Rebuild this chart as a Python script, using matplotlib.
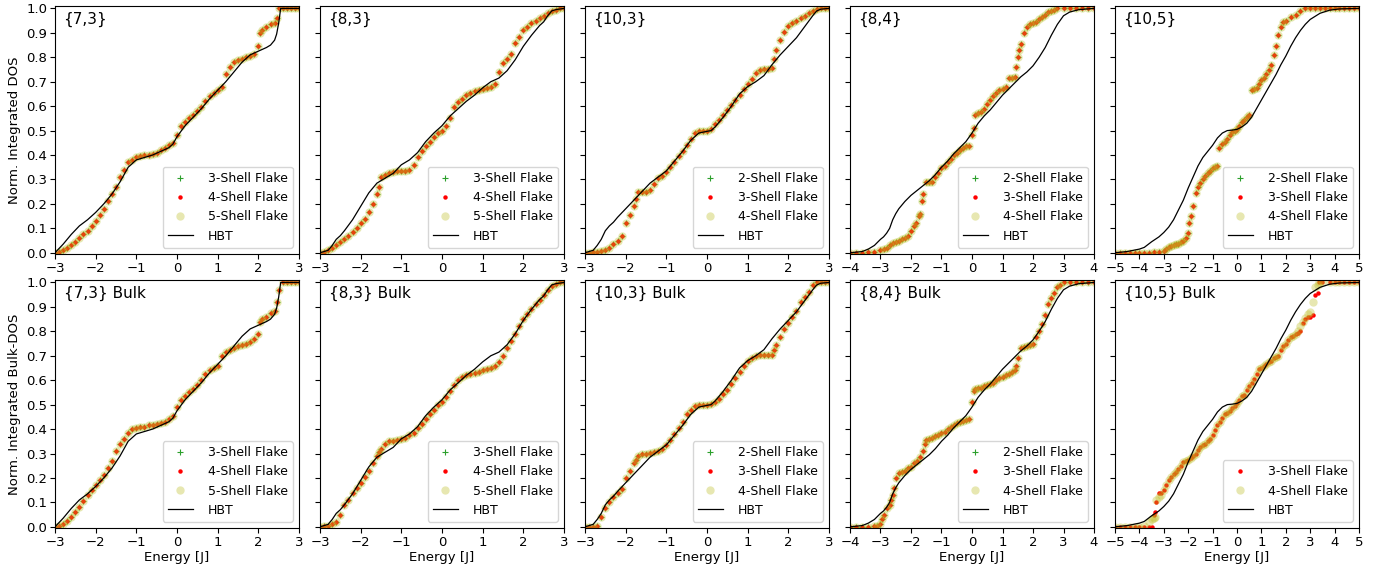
import matplotlib
matplotlib.use('Agg')
import matplotlib.pyplot as plt

# ---- {7,3} ----
e73 = [-3.0, -2.9, -2.8, -2.7, -2.6, -2.5, -2.4, -2.3, -2.2, -2.1, -2.0, -1.9, -1.8, -1.7, -1.6, -1.5,
       -1.4, -1.3, -1.2, -1.1, -1.0, -0.9, -0.8, -0.7, -0.6, -0.5, -0.4, -0.3, -0.2, -0.1, 0.0, 0.1,
       0.2, 0.3, 0.4, 0.5, 0.6, 0.7, 0.8, 0.9, 1.0, 1.1, 1.2, 1.3, 1.4, 1.5, 1.6, 1.7, 1.8, 1.9,
       2.0, 2.05, 2.1, 2.2, 2.3, 2.4, 2.45, 2.5, 2.6, 2.7, 2.8, 2.9, 3.0]
n73 = [0.0, 0.005, 0.01, 0.02, 0.03, 0.045, 0.06, 0.075, 0.09, 0.11, 0.13, 0.155, 0.18, 0.21, 0.24, 0.27,
       0.31, 0.34, 0.37, 0.38, 0.39, 0.395, 0.40, 0.40, 0.405, 0.41, 0.42, 0.43, 0.44, 0.45, 0.48, 0.52,
       0.535, 0.55, 0.565, 0.58, 0.595, 0.62, 0.64, 0.655, 0.665, 0.68, 0.73, 0.76, 0.78, 0.79, 0.795, 0.80, 0.805, 0.815,
       0.845, 0.90, 0.91, 0.925, 0.935, 0.94, 0.96, 1.0, 1.0, 1.0, 1.0, 1.0, 1.0]
n73b = [0.0, 0.003, 0.01, 0.025, 0.04, 0.06, 0.08, 0.105, 0.13, 0.15, 0.17, 0.19, 0.21, 0.24, 0.27, 0.31,
        0.34, 0.36, 0.385, 0.40, 0.405, 0.41, 0.41, 0.415, 0.415, 0.42, 0.425, 0.43, 0.44, 0.455, 0.49, 0.52,
        0.535, 0.55, 0.565, 0.58, 0.60, 0.625, 0.64, 0.65, 0.66, 0.70, 0.715, 0.725, 0.73, 0.74, 0.745, 0.75, 0.755, 0.77,
        0.79, 0.84, 0.85, 0.86, 0.875, 0.885, 0.92, 0.97, 1.0, 1.0, 1.0, 1.0, 1.0]
h73e = [-3.0, -2.8, -2.6, -2.4, -2.2, -2.0, -1.8, -1.6, -1.4, -1.2, -1.0, -0.8, -0.6, -0.4, -0.2, -0.1, 0.0,
        0.2, 0.4, 0.6, 0.8, 1.0, 1.2, 1.4, 1.6, 1.8, 2.0, 2.2, 2.3, 2.4, 2.45, 2.5, 2.55, 2.6, 3.0]
h73n = [0.0, 0.035, 0.075, 0.11, 0.135, 0.165, 0.20, 0.24, 0.29, 0.35, 0.38, 0.39, 0.40, 0.415, 0.43, 0.445, 0.475,
        0.52, 0.555, 0.59, 0.63, 0.665, 0.70, 0.74, 0.78, 0.81, 0.825, 0.84, 0.85, 0.87, 0.895, 0.94, 1.0, 1.0, 1.0]

# ---- {8,3} ----
e83 = [-3.0, -2.9, -2.8, -2.7, -2.6, -2.5, -2.4, -2.3, -2.2, -2.1, -2.0, -1.9, -1.8, -1.7, -1.6, -1.55,
       -1.5, -1.4, -1.3, -1.2, -1.1, -1.0, -0.9, -0.8, -0.7, -0.6, -0.5, -0.4, -0.3, -0.2, -0.1, 0.0,
       0.1, 0.2, 0.3, 0.4, 0.5, 0.6, 0.7, 0.8, 0.9, 1.0, 1.1, 1.2, 1.3, 1.4, 1.5, 1.6, 1.7, 1.8,
       1.9, 2.0, 2.1, 2.2, 2.3, 2.4, 2.5, 2.6, 2.7, 2.8, 2.9, 3.0]
n83 = [0.0, 0.003, 0.01, 0.02, 0.03, 0.042, 0.055, 0.07, 0.085, 0.10, 0.12, 0.14, 0.165, 0.20, 0.24, 0.27,
       0.31, 0.32, 0.325, 0.33, 0.333, 0.335, 0.335, 0.34, 0.36, 0.39, 0.415, 0.435, 0.455, 0.475, 0.49, 0.50,
       0.52, 0.55, 0.595, 0.615, 0.63, 0.645, 0.655, 0.66, 0.665, 0.67, 0.675, 0.68, 0.69, 0.74, 0.775, 0.795, 0.815, 0.86,
       0.885, 0.91, 0.925, 0.94, 0.95, 0.96, 0.97, 0.98, 0.99, 0.995, 1.0, 1.0]
n83b = [0.0, 0.002, 0.005, 0.01, 0.02, 0.05, 0.09, 0.11, 0.14, 0.16, 0.18, 0.205, 0.23, 0.26, 0.29, 0.305,
        0.32, 0.34, 0.35, 0.352, 0.355, 0.36, 0.365, 0.375, 0.385, 0.405, 0.42, 0.44, 0.46, 0.48, 0.50, 0.51,
        0.53, 0.555, 0.58, 0.60, 0.615, 0.62, 0.625, 0.63, 0.635, 0.64, 0.645, 0.65, 0.66, 0.675, 0.70, 0.73, 0.76, 0.79,
        0.82, 0.85, 0.87, 0.89, 0.91, 0.93, 0.95, 0.97, 0.985, 0.995, 1.0, 1.0]
h83e = [-3.0, -2.8, -2.7, -2.6, -2.5, -2.4, -2.2, -2.0, -1.8, -1.6, -1.4, -1.2, -1.0, -0.8, -0.6, -0.4, -0.2,
        0.0, 0.2, 0.4, 0.6, 0.8, 1.0, 1.2, 1.4, 1.6, 1.8, 2.0, 2.2, 2.4, 2.5, 2.6, 2.7, 2.8, 3.0]
h83n = [0.0, 0.01, 0.03, 0.055, 0.07, 0.09, 0.135, 0.19, 0.245, 0.285, 0.305, 0.325, 0.36, 0.38, 0.41, 0.455, 0.49,
        0.52, 0.56, 0.59, 0.62, 0.645, 0.675, 0.70, 0.715, 0.745, 0.79, 0.845, 0.89, 0.93, 0.945, 0.97, 0.99, 0.995, 1.0]

# ---- {10,3} ----
e103 = [-3.0, -2.9, -2.8, -2.7, -2.6, -2.5, -2.4, -2.3, -2.2, -2.1, -2.0, -1.9, -1.8, -1.75, -1.7, -1.6,
        -1.5, -1.4, -1.3, -1.2, -1.1, -1.0, -0.9, -0.8, -0.7, -0.6, -0.5, -0.4, -0.3, -0.2, -0.1, 0.0,
        0.1, 0.2, 0.3, 0.4, 0.5, 0.6, 0.7, 0.8, 0.9, 1.0, 1.1, 1.2, 1.3, 1.4, 1.5, 1.6, 1.65, 1.7,
        1.8, 1.9, 2.0, 2.1, 2.2, 2.3, 2.4, 2.5, 2.6, 2.7, 2.8, 2.9, 3.0]
n103 = [0.0, 0.0, 0.002, 0.005, 0.008, 0.012, 0.02, 0.035, 0.05, 0.07, 0.12, 0.155, 0.19, 0.22, 0.25, 0.25,
        0.25, 0.255, 0.28, 0.305, 0.315, 0.33, 0.35, 0.37, 0.395, 0.415, 0.44, 0.465, 0.49, 0.50, 0.50, 0.50,
        0.505, 0.525, 0.545, 0.565, 0.585, 0.605, 0.625, 0.645, 0.67, 0.69, 0.71, 0.735, 0.75, 0.752, 0.753, 0.755, 0.795, 0.83,
        0.87, 0.905, 0.93, 0.94, 0.95, 0.96, 0.97, 0.98, 0.99, 0.997, 1.0, 1.0, 1.0]
n103b = [0.0, 0.0, 0.0, 0.005, 0.04, 0.075, 0.10, 0.12, 0.14, 0.155, 0.20, 0.23, 0.26, 0.275, 0.29, 0.30,
         0.30, 0.302, 0.305, 0.31, 0.32, 0.335, 0.355, 0.38, 0.405, 0.43, 0.46, 0.48, 0.495, 0.50, 0.50, 0.50,
         0.502, 0.51, 0.525, 0.545, 0.56, 0.585, 0.61, 0.635, 0.66, 0.68, 0.69, 0.70, 0.702, 0.703, 0.703, 0.705, 0.725, 0.745,
         0.775, 0.81, 0.835, 0.86, 0.885, 0.92, 0.94, 0.96, 0.99, 1.0, 1.0, 1.0, 1.0]
h103e = [-3.0, -2.8, -2.7, -2.6, -2.5, -2.4, -2.3, -2.2, -2.0, -1.8, -1.6, -1.4, -1.2, -1.0, -0.8, -0.6, -0.4,
         -0.2, 0.0, 0.1, 0.2, 0.4, 0.6, 0.8, 1.0, 1.2, 1.4, 1.6, 1.8, 2.0, 2.2, 2.4, 2.6, 2.7, 2.8, 3.0]
h103n = [0.0, 0.01, 0.03, 0.055, 0.09, 0.11, 0.125, 0.145, 0.18, 0.215, 0.25, 0.285, 0.31, 0.335, 0.375, 0.415, 0.46,
         0.49, 0.497, 0.50, 0.515, 0.555, 0.60, 0.65, 0.68, 0.70, 0.725, 0.77, 0.81, 0.845, 0.88, 0.925, 0.97, 0.99, 0.997, 1.0]

# ---- {8,4} ----
e84 = [-4.0, -3.8, -3.6, -3.4, -3.2, -3.0, -2.9, -2.8, -2.7, -2.6, -2.5, -2.4, -2.3, -2.2, -2.1, -2.0,
       -1.9, -1.85, -1.75, -1.7, -1.65, -1.6, -1.5, -1.4, -1.3, -1.2, -1.1, -1.0, -0.9, -0.8, -0.7, -0.6,
       -0.5, -0.4, -0.3, -0.2, -0.1, 0.0, 0.05, 0.1, 0.2, 0.3, 0.4, 0.5, 0.6, 0.7, 0.8, 0.9, 1.0, 1.1,
       1.2, 1.3, 1.4, 1.45, 1.5, 1.55, 1.6, 1.7, 1.8, 1.9, 2.0, 2.1, 2.2, 2.3, 2.4, 2.5, 2.6, 2.7,
       2.8, 3.0, 3.2, 3.4, 3.6, 3.8, 4.0]
n84 = [0.0, 0.0, 0.0, 0.002, 0.005, 0.01, 0.015, 0.02, 0.03, 0.04, 0.045, 0.05, 0.055, 0.06, 0.07, 0.09,
       0.11, 0.12, 0.15, 0.16, 0.21, 0.24, 0.29, 0.29, 0.29, 0.31, 0.325, 0.345, 0.355, 0.37, 0.385, 0.40,
       0.41, 0.42, 0.43, 0.435, 0.437, 0.48, 0.51, 0.565, 0.57, 0.575, 0.59, 0.61, 0.625, 0.64, 0.655, 0.665, 0.67, 0.68,
       0.715, 0.715, 0.72, 0.76, 0.80, 0.83, 0.855, 0.90, 0.925, 0.935, 0.94, 0.945, 0.955, 0.965, 0.975, 0.985, 0.99, 0.995,
       1.0, 1.0, 1.0, 1.0, 1.0, 1.0, 1.0]
e84b = [-4.0, -3.8, -3.6, -3.4, -3.2, -3.1, -3.0, -2.95, -2.9, -2.8, -2.7, -2.65, -2.6, -2.55, -2.5, -2.4,
        -2.3, -2.2, -2.1, -2.0, -1.9, -1.8, -1.7, -1.6, -1.55, -1.5, -1.4, -1.3, -1.2, -1.1, -1.0, -0.9,
        -0.8, -0.7, -0.6, -0.5, -0.4, -0.3, -0.2, -0.1, 0.0, 0.05, 0.1, 0.2, 0.3, 0.4, 0.5, 0.6, 0.7, 0.8,
        0.9, 1.0, 1.1, 1.2, 1.3, 1.4, 1.45, 1.5, 1.6, 1.7, 1.8, 1.9, 2.0, 2.1, 2.2, 2.3, 2.4, 2.5,
        2.6, 2.7, 2.8, 2.9, 3.0, 3.2, 3.4, 3.6, 3.8, 4.0]
n84b = [0.0, 0.0, 0.0, 0.0, 0.003, 0.005, 0.01, 0.03, 0.05, 0.075, 0.09, 0.11, 0.13, 0.16, 0.20, 0.22,
        0.225, 0.23, 0.24, 0.245, 0.26, 0.27, 0.285, 0.31, 0.34, 0.355, 0.36, 0.365, 0.37, 0.375, 0.385, 0.39,
        0.40, 0.41, 0.415, 0.425, 0.43, 0.435, 0.437, 0.44, 0.51, 0.555, 0.565, 0.567, 0.57, 0.575, 0.58, 0.585, 0.59, 0.60,
        0.61, 0.615, 0.62, 0.625, 0.635, 0.64, 0.66, 0.69, 0.73, 0.735, 0.74, 0.745, 0.75, 0.775, 0.80, 0.83, 0.865, 0.91,
        0.935, 0.955, 0.98, 0.99, 1.0, 1.0, 1.0, 1.0, 1.0, 1.0]
h84e = [-4.0, -3.6, -3.4, -3.2, -3.0, -2.9, -2.8, -2.7, -2.6, -2.5, -2.4, -2.2, -2.0, -1.8, -1.6, -1.4, -1.2,
        -1.0, -0.8, -0.6, -0.4, -0.2, 0.0, 0.2, 0.4, 0.6, 0.8, 1.0, 1.2, 1.4, 1.6, 1.8, 2.0, 2.2, 2.4, 2.6,
        2.8, 3.0, 3.2, 3.5, 4.0]
h84n = [0.0, 0.005, 0.015, 0.03, 0.055, 0.065, 0.08, 0.10, 0.135, 0.16, 0.18, 0.21, 0.235, 0.255, 0.275, 0.295, 0.32,
        0.35, 0.375, 0.405, 0.43, 0.455, 0.49, 0.53, 0.56, 0.585, 0.615, 0.645, 0.67, 0.695, 0.72, 0.74, 0.765, 0.80, 0.84, 0.89,
        0.935, 0.97, 0.985, 0.995, 1.0]

# ---- {10,5} ----
e105 = [-5.0, -4.8, -4.6, -4.4, -4.2, -4.0, -3.8, -3.6, -3.4, -3.2, -3.0, -2.9, -2.8, -2.7, -2.6, -2.5,
        -2.4, -2.3, -2.2, -2.1, -2.0, -1.95, -1.9, -1.8, -1.7, -1.6, -1.5, -1.4, -1.3, -1.2, -1.1, -1.0,
        -0.9, -0.8, -0.75, -0.6, -0.5, -0.4, -0.3, -0.2, -0.1, 0.0, 0.1, 0.2, 0.3, 0.4, 0.5, 0.6, 0.7, 0.8,
        0.9, 1.0, 1.1, 1.2, 1.3, 1.4, 1.5, 1.6, 1.7, 1.8, 1.9, 2.0, 2.2, 2.4, 2.6, 2.8, 3.0, 3.2,
        3.4, 3.6, 3.8, 4.0, 4.2, 4.4, 4.6, 4.8, 5.0]
n105 = [0.0, 0.0, 0.0, 0.0, 0.0, 0.0, 0.0, 0.0, 0.002, 0.005, 0.008, 0.015, 0.022, 0.028, 0.032, 0.034,
        0.036, 0.045, 0.05, 0.06, 0.08, 0.12, 0.15, 0.19, 0.245, 0.27, 0.285, 0.30, 0.315, 0.325, 0.335, 0.345,
        0.35, 0.355, 0.43, 0.445, 0.455, 0.465, 0.48, 0.495, 0.50, 0.505, 0.52, 0.535, 0.545, 0.555, 0.565, 0.665, 0.67, 0.675,
        0.69, 0.705, 0.715, 0.73, 0.75, 0.77, 0.81, 0.845, 0.89, 0.925, 0.945, 0.95, 0.965, 0.975, 0.99, 1.0, 1.0, 1.0,
        1.0, 1.0, 1.0, 1.0, 1.0, 1.0, 1.0, 1.0, 1.0]
e105b = [-5.0, -4.8, -4.6, -4.4, -4.2, -4.0, -3.8, -3.6, -3.5, -3.4, -3.35, -3.3, -3.2, -3.1, -3.0, -2.9,
         -2.8, -2.7, -2.6, -2.5, -2.4, -2.3, -2.2, -2.1, -2.0, -1.9, -1.8, -1.7, -1.6, -1.5, -1.4, -1.3,
         -1.2, -1.1, -1.0, -0.9, -0.8, -0.7, -0.6, -0.5, -0.4, -0.3, -0.2, -0.1, 0.0, 0.1, 0.2, 0.3, 0.4, 0.5,
         0.6, 0.7, 0.8, 0.9, 1.0, 1.1, 1.2, 1.3, 1.4, 1.5, 1.6, 1.7, 1.8, 1.9, 2.0, 2.1, 2.2, 2.3,
         2.4, 2.5, 2.6, 2.7, 2.8, 2.9, 3.0, 3.1, 3.2, 3.3, 3.35, 3.5, 3.8, 4.0, 4.2, 4.4, 4.6, 4.8, 5.0]
n105b3 = [0.0, 0.0, 0.0, 0.0, 0.0, 0.0, 0.0, 0.0, 0.0, 0.05, 0.06, 0.10, 0.14, 0.14, 0.15, 0.17,
          0.19, 0.205, 0.215, 0.225, 0.235, 0.25, 0.265, 0.27, 0.275, 0.28, 0.29, 0.30, 0.315, 0.325, 0.335, 0.34,
          0.35, 0.36, 0.375, 0.395, 0.415, 0.43, 0.445, 0.46, 0.465, 0.475, 0.485, 0.495, 0.505, 0.52, 0.535, 0.54, 0.56, 0.575,
          0.59, 0.605, 0.625, 0.645, 0.65, 0.66, 0.665, 0.675, 0.68, 0.69, 0.695, 0.70, 0.725, 0.74, 0.75, 0.765, 0.775, 0.78,
          0.79, 0.795, 0.80, 0.835, 0.85, 0.86, 0.86, 0.865, 0.95, 0.955, 1.0, 1.0, 1.0, 1.0, 1.0, 1.0, 1.0, 1.0, 1.0]
n105b4 = [0.0, 0.0, 0.0, 0.0, 0.0, 0.0, 0.005, 0.02, 0.03, 0.035, 0.04, 0.11, 0.12, 0.13, 0.15, 0.17,
          0.19, 0.205, 0.215, 0.225, 0.235, 0.25, 0.265, 0.27, 0.275, 0.28, 0.29, 0.30, 0.315, 0.325, 0.335, 0.34,
          0.35, 0.36, 0.375, 0.395, 0.415, 0.43, 0.445, 0.46, 0.465, 0.475, 0.485, 0.495, 0.505, 0.52, 0.535, 0.54, 0.56, 0.575,
          0.59, 0.605, 0.625, 0.645, 0.65, 0.66, 0.665, 0.675, 0.68, 0.69, 0.695, 0.70, 0.725, 0.74, 0.75, 0.765, 0.775, 0.78,
          0.79, 0.80, 0.82, 0.84, 0.855, 0.87, 0.88, 0.92, 0.98, 0.99, 1.0, 1.0, 1.0, 1.0, 1.0, 1.0, 1.0, 1.0, 1.0]
h105e = [-5.0, -4.5, -4.0, -3.8, -3.5, -3.2, -3.0, -2.8, -2.6, -2.4, -2.2, -2.0, -1.8, -1.6, -1.4, -1.2, -1.0,
         -0.8, -0.6, -0.4, -0.2, 0.0, 0.2, 0.4, 0.6, 0.8, 1.0, 1.2, 1.4, 1.6, 1.8, 2.0, 2.2, 2.4, 2.6, 2.8,
         3.0, 3.4, 3.8, 4.2, 5.0]
h105n = [0.0, 0.005, 0.015, 0.022, 0.045, 0.065, 0.083, 0.105, 0.135, 0.175, 0.215, 0.265, 0.31, 0.355, 0.39, 0.415, 0.44,
         0.47, 0.49, 0.50, 0.502, 0.505, 0.515, 0.53, 0.555, 0.59, 0.625, 0.66, 0.695, 0.73, 0.77, 0.805, 0.845, 0.88, 0.91, 0.935,
         0.955, 0.98, 0.993, 0.998, 1.0]

names = ['{7,3}', '{8,3}', '{10,3}', '{8,4}', '{10,5}']
xlims = [3, 3, 3, 4, 5]
shells_top = [[3, 4, 5], [3, 4, 5], [2, 3, 4], [2, 3, 4], [2, 3, 4]]
shells_bot = [[3, 4, 5], [3, 4, 5], [2, 3, 4], [2, 3, 4], [3, 4]]

top_data = [(e73, n73), (e83, n83), (e103, n103), (e84, n84), (e105, n105)]
bot_data = [[(e73, n73b)] * 3, [(e83, n83b)] * 3, [(e103, n103b)] * 3, [(e84b, n84b)] * 3,
            [(e105b, n105b3), (e105b, n105b4)]]
hbt = [(h73e, h73n), (h83e, h83n), (h103e, h103n), (h84e, h84n), (h105e, h105n)]

# green +, red dot, translucent yellow circle (drawn last -> orange look)
styles = [dict(marker='+', color='#2ca02c', ms=4.5, mew=0.8),
          dict(marker='o', color='red', ms=3.2, mew=0),
          dict(marker='o', color='#bcbd22', ms=6, mew=0, alpha=0.35)]

plt.rcParams['font.size'] = 9.5

fig, axs = plt.subplots(2, 5, figsize=(13.92, 5.69), dpi=100, sharey=True)
fig.subplots_adjust(left=0.0395, right=0.9763, bottom=0.072, top=0.9895, wspace=0.086, hspace=0.105)

for i in range(5):
    for row in range(2):
        ax = axs[row, i]
        if row == 0:
            series = [top_data[i]] * 3
            shells = shells_top[i]
            title = names[i]
        else:
            series = bot_data[i]
            shells = shells_bot[i]
            title = names[i] + ' Bulk'
        st = styles[-len(series):]
        for (e, n), s, k in zip(series, st, shells):
            ax.plot(e, n, linestyle='none', label='%d-Shell Flake' % k, **s)
        ax.plot(hbt[i][0], hbt[i][1], color='black', lw=0.9, label='HBT')
        ax.set_xlim(-xlims[i], xlims[i])
        ax.set_xticks(range(-xlims[i], xlims[i] + 1))
        ax.set_ylim(-0.005, 1.01)
        ax.set_yticks([k / 10 for k in range(11)])
        ax.text(0.035, 0.945, title, transform=ax.transAxes, fontsize=11, va='center')
        ax.legend(loc='lower right', fontsize=9, handletextpad=1.2, borderaxespad=0.5)
        if row == 1:
            ax.set_xlabel('Energy [J]', fontsize=9.5, labelpad=2)
        ax.tick_params(labelsize=9.5, pad=2)

axs[0, 0].set_ylabel('Norm. Integrated DOS', fontsize=9.5)
axs[1, 0].set_ylabel('Norm. Integrated Bulk-DOS', fontsize=9.5)

plt.savefig('out.png', dpi=100)
plt.close()
